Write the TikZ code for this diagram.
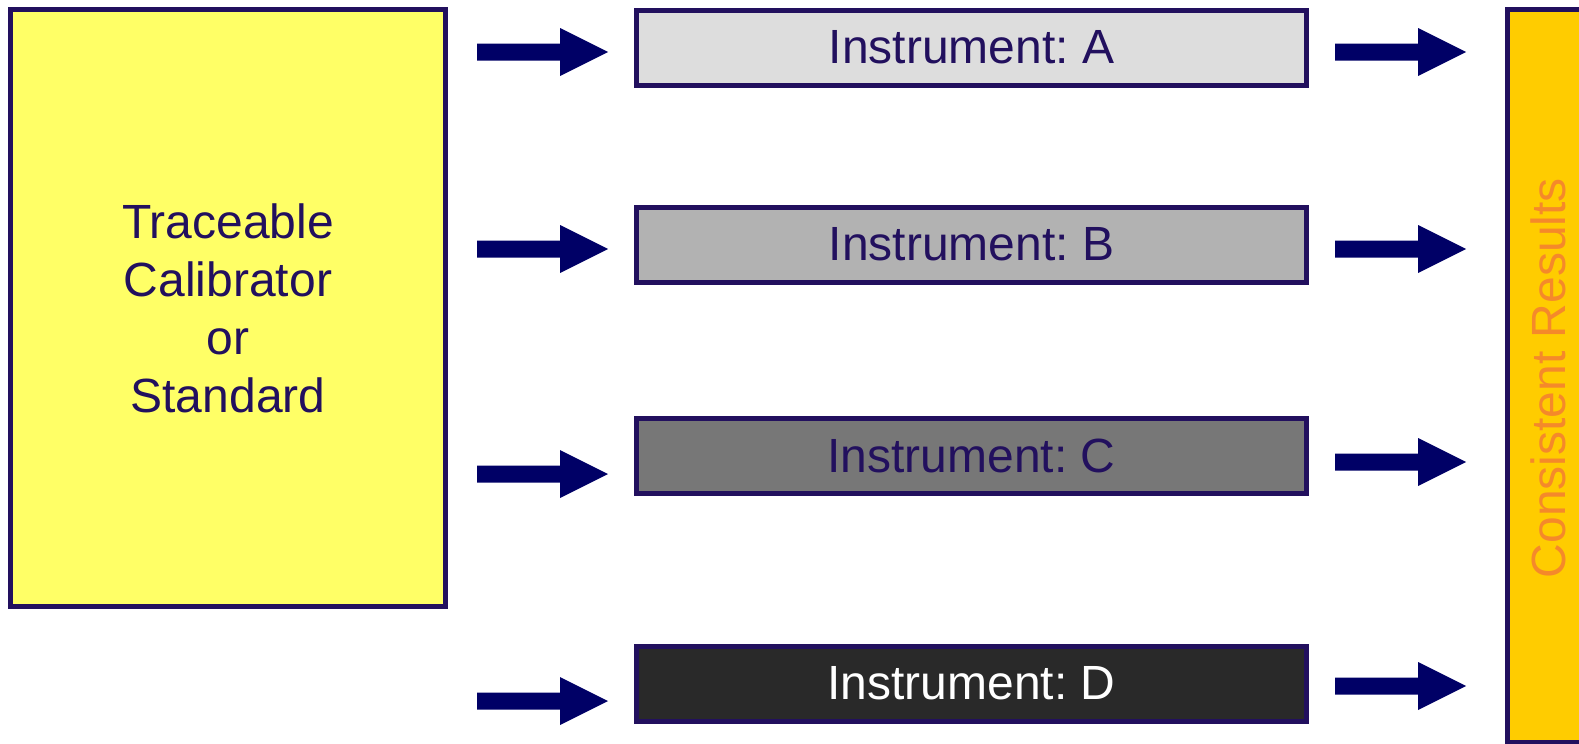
\documentclass[tikz,border=0pt]{standalone}
\usepackage{fontspec}
\setmainfont{Liberation Sans}
\frenchspacing
\definecolor{inkc}{HTML}{22105E}
\definecolor{arrowc}{HTML}{000066}
\definecolor{yellowc}{HTML}{FFFF66}
\definecolor{goldc}{HTML}{FFCC00}
\definecolor{orangec}{HTML}{F5892A}
\definecolor{greyA}{HTML}{DDDDDD}
\definecolor{greyB}{HTML}{B2B2B2}
\definecolor{greyC}{HTML}{777777}
\definecolor{greyD}{HTML}{292929}
\tikzset{
  boxstyle/.style={draw=inkc, line width=5pt, inner sep=0pt, text=inkc,
    font=\fontsize{48}{58}\selectfont, align=center},
  instr/.style={boxstyle, minimum width=670pt, minimum height=75pt},
  blockarrow/.pic={\fill[arrowc] (0,-8.5) -- (83,-8.5) -- (83,-24) -- (131,0)
    -- (83,24) -- (83,8.5) -- (0,8.5) -- cycle;}
}
\begin{document}
\begin{tikzpicture}[x=1pt, y=-1pt]
\useasboundingbox (0,0) rectangle (1579,744);
\begin{scope}
\clip (0,0) rectangle (1579,744);
% calibrator
\node[boxstyle, fill=yellowc, minimum width=435pt, minimum height=597pt]
  (cal) at (228,308) {Traceable\\Calibrator\\or\\Standard};
% instruments
\node[instr, fill=greyA] (instA) at (971.5,47.5) {Instrument: A};
\node[instr, fill=greyB] (instB) at (971.5,244.5) {Instrument: B};
\node[instr, fill=greyC] (instC) at (971.5,456) {Instrument: C};
\node[instr, fill=greyD, text=white] (instD) at (971.5,683.5) {Instrument: D};
% results column
\node[boxstyle, fill=goldc, minimum width=112.5pt, minimum height=733pt]
  (res) at (1563.75,376) {};
\node[rotate=90, anchor=base, inner sep=0pt, text=orangec,
  font=\fontsize{48}{58}\selectfont] (restext) at (1565,378) {Consistent Results};
% arrows into the instruments
\pic at (477,52) {blockarrow};
\pic at (477,249) {blockarrow};
\pic at (477,474) {blockarrow};
\pic at (477,701) {blockarrow};
% arrows out of the instruments
\pic at (1335,52) {blockarrow};
\pic at (1335,249) {blockarrow};
\pic at (1335,462) {blockarrow};
\pic at (1335,686) {blockarrow};
\end{scope}
\end{tikzpicture}
\end{document}
